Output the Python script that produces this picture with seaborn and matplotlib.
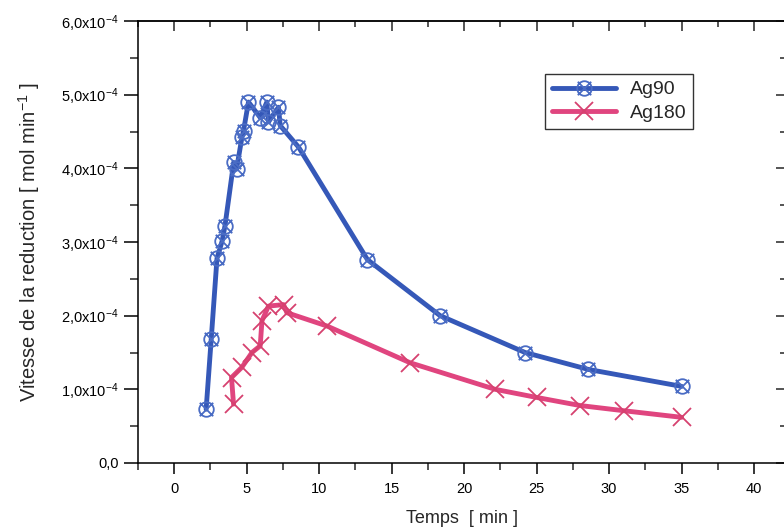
import numpy as np
import pandas as pd
import matplotlib
matplotlib.use("Agg")
import matplotlib.pyplot as plt
from matplotlib.path import Path
from matplotlib.ticker import MultipleLocator, FuncFormatter
import seaborn as sns

# ---- data (rate in units of 1e-4 mol/min) ----
t_ag90 = [2.2, 2.55, 2.95, 3.3, 3.5, 4.1, 4.3, 4.67, 4.78, 5.12, 5.93, 6.39, 6.5,
          7.19, 7.31, 8.57, 13.33, 18.34, 24.2, 28.57, 35.0]
v_ag90 = [0.73, 1.68, 2.78, 3.01, 3.22, 4.08, 3.99, 4.42, 4.51, 4.90, 4.69, 4.90, 4.63,
          4.83, 4.58, 4.29, 2.76, 2.0, 1.50, 1.27, 1.04]
t_ag180 = [4.09, 3.95, 4.67, 5.36, 5.93, 6.05, 6.5, 7.54, 7.77, 10.53, 16.28, 22.14,
           25.0, 28.0, 31.0, 35.0]
v_ag180 = [0.80, 1.16, 1.30, 1.50, 1.59, 1.93, 2.13, 2.15, 2.04, 1.86, 1.36, 1.00,
           0.89, 0.78, 0.71, 0.62]
series_names = ["Ag90", "Ag180"]
x_ticks = [0, 5, 10, 15, 20, 25, 30, 35, 40]
scale = 1e-4

sns.set_style("ticks")
plt.rcParams["font.family"] = ["Liberation Sans", "DejaVu Sans"]
plt.rcParams["mathtext.fontset"] = "custom"
plt.rcParams["mathtext.rm"] = "Liberation Sans"
plt.rcParams["mathtext.it"] = "Liberation Sans:italic"
plt.rcParams["mathtext.bf"] = "Liberation Sans:bold"

fig = plt.figure(figsize=(7.84, 5.29), dpi=100)
ax = fig.add_axes([138 / 784, 1 - 463 / 529, (786 - 138) / 784, (463 - 21) / 529])

# custom circle-with-cross marker
circ = Path.unit_circle()
d = 0.92
diag1 = Path([(-d, -d), (d, d)], [Path.MOVETO, Path.LINETO])
diag2 = Path([(-d, d), (d, -d)], [Path.MOVETO, Path.LINETO])
circx = Path.make_compound_path(circ, diag1, diag2)

blue_line = "#3558b8"
blue_mark = "#4a6cc4"
pink_line = "#e0457f"
pink_mark = "#d6416f"

df90 = pd.DataFrame({"t": t_ag90, "v": np.array(v_ag90) * scale})
df180 = pd.DataFrame({"t": t_ag180, "v": np.array(v_ag180) * scale})

sns.lineplot(data=df90, x="t", y="v", sort=False, estimator=None, ax=ax,
             color=blue_line, lw=3.5, marker=circx, markersize=10.5,
             markerfacecolor="none", markeredgecolor=blue_mark,
             markeredgewidth=1.3, label=series_names[0])
sns.lineplot(data=df180, x="t", y="v", sort=False, estimator=None, ax=ax,
             color=pink_line, lw=3.5, marker="x", markersize=12.5,
             markeredgecolor=pink_mark, markeredgewidth=1.3,
             label=series_names[1])

ax.set_xlim(-2.5, 42.2)
ax.set_ylim(0, 6e-4)
ax.set_xticks(x_ticks)
ax.xaxis.set_minor_locator(MultipleLocator(2.5))
ax.yaxis.set_major_locator(MultipleLocator(1e-4))
ax.yaxis.set_minor_locator(MultipleLocator(0.5e-4))


def yfmt(v, pos):
    if abs(v) < 1e-9:
        return "0,0"
    return ("%.1f" % (v / 1e-4)).replace(".", ",") + r"x10$^{-4}$"


ax.yaxis.set_major_formatter(FuncFormatter(yfmt))
ax.tick_params(axis="both", which="major", direction="out", width=1.1,
               labelsize=10.5, colors="black")
ax.tick_params(axis="y", which="major", length=10, pad=4)
ax.tick_params(axis="y", which="minor", direction="out", length=6, width=1.1)
ax.tick_params(axis="x", which="major", length=8, pad=6)
ax.tick_params(axis="x", which="minor", direction="out", length=5, width=1.1)

for sp in ax.spines.values():
    sp.set_linewidth(1.1)
    sp.set_color("black")

sec_x = ax.secondary_xaxis("top")
sec_x.set_xticks(x_ticks)
sec_x.xaxis.set_minor_locator(MultipleLocator(2.5))
sec_x.tick_params(which="major", direction="in", length=7, width=1.1, labeltop=False)
sec_x.tick_params(which="minor", direction="in", length=4, width=1.1)
sec_x.spines["top"].set_linewidth(1.1)

sec_y = ax.secondary_yaxis("right")
sec_y.yaxis.set_major_locator(MultipleLocator(1e-4))
sec_y.yaxis.set_minor_locator(MultipleLocator(0.5e-4))
sec_y.tick_params(which="major", direction="in", length=7, width=1.1, labelright=False)
sec_y.tick_params(which="minor", direction="in", length=4, width=1.1)

ax.set_xlabel("Temps  [ min ]", fontsize=13, labelpad=10)
ax.set_ylabel(r"Vitesse de la reduction [ mol min$^{-1}$ ]", fontsize=14.5, labelpad=14)

leg = ax.legend(loc="upper left", bbox_to_anchor=(0.628, 0.88), borderaxespad=0,
                frameon=True, fancybox=False, fontsize=14, handlelength=3.3,
                handletextpad=0.7, borderpad=0.35, labelspacing=0.3)
leg.get_frame().set_edgecolor("black")
leg.get_frame().set_linewidth(1.0)

fig.savefig("out.png", dpi=100)
